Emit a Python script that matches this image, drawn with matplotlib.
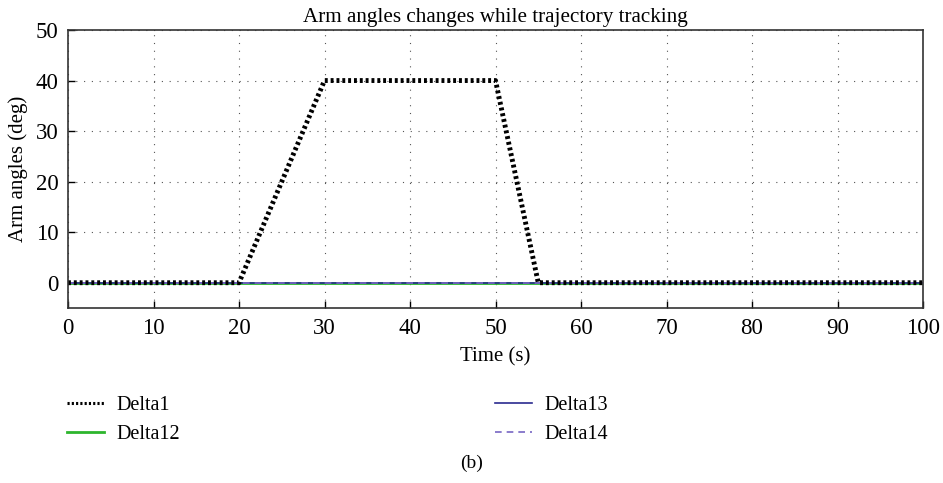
import matplotlib
matplotlib.use("Agg")
import matplotlib.pyplot as plt
from matplotlib.lines import Line2D

plt.rcParams['font.family'] = ['Liberation Serif', 'DejaVu Serif']

time_d1 = [0, 20, 30, 50, 55, 100]
delta1 = [0, 0, 40, 40, 0, 0]
time_z = [0, 100]
delta12 = [0, 0]
delta13 = [0, 0]
delta14 = [0, 0]

fig = plt.figure(figsize=(9.43, 4.83), dpi=100)
ax = fig.add_axes([68/943, 1-308/483, (923-68)/943, (308-30)/483])

ax.plot(time_z, delta12, color='#2db52d', lw=2.0)
ax.plot(time_z, delta13, color='#2a2a8f', lw=1.2)
ax.plot(time_z, delta14, color='#7766c4', lw=1.2, ls=(0, (4, 3)))
ax.plot(time_d1, delta1, color='black', lw=3.5, ls=(0, (0.6, 0.6)))

ax.set_xlim(0, 100)
ax.set_ylim(-5, 50)
ax.set_xticks(range(0, 101, 10))
ax.set_yticks([0, 10, 20, 30, 40, 50])
ax.tick_params(direction='in', labelsize=16.5, length=5, width=1, pad=7)
ax.grid(True, ls=(0, (1, 6)), color='#555555', lw=0.8)
for s in ax.spines.values():
    s.set_linewidth(1.2)
    s.set_color('#333333')
ax.set_title('Arm angles changes while trajectory tracking', fontsize=15.2, pad=6)
ax.set_xlabel('Time (s)', fontsize=15, labelpad=6)
ax.set_ylabel('Arm angles (deg)', fontsize=15, labelpad=5)

h_d1 = Line2D([], [], color='black', lw=2.2, ls=(0, (0.7, 0.7)))
h_d12 = Line2D([], [], color='#2db52d', lw=2.0)
h_d13 = Line2D([], [], color='#2a2a8f', lw=1.2)
h_d14 = Line2D([], [], color='#7766c4', lw=1.2, ls=(0, (4, 3)))

common = dict(frameon=False, fontsize=14.5, handlelength=1.84, labelspacing=0.45,
              handletextpad=0.6, borderpad=0, borderaxespad=0, loc='center left')
fig.legend([h_d1, h_d12], ['Delta1', 'Delta12'],
           bbox_to_anchor=(67/943, 1-420/483), **common)
fig.legend([h_d13, h_d14], ['Delta13', 'Delta14'],
           bbox_to_anchor=(495/943, 1-420/483), **common)
fig.text(0.5, 1-463/483, '(b)', ha='center', va='center', fontsize=14)

fig.savefig('out.png', dpi=100)
